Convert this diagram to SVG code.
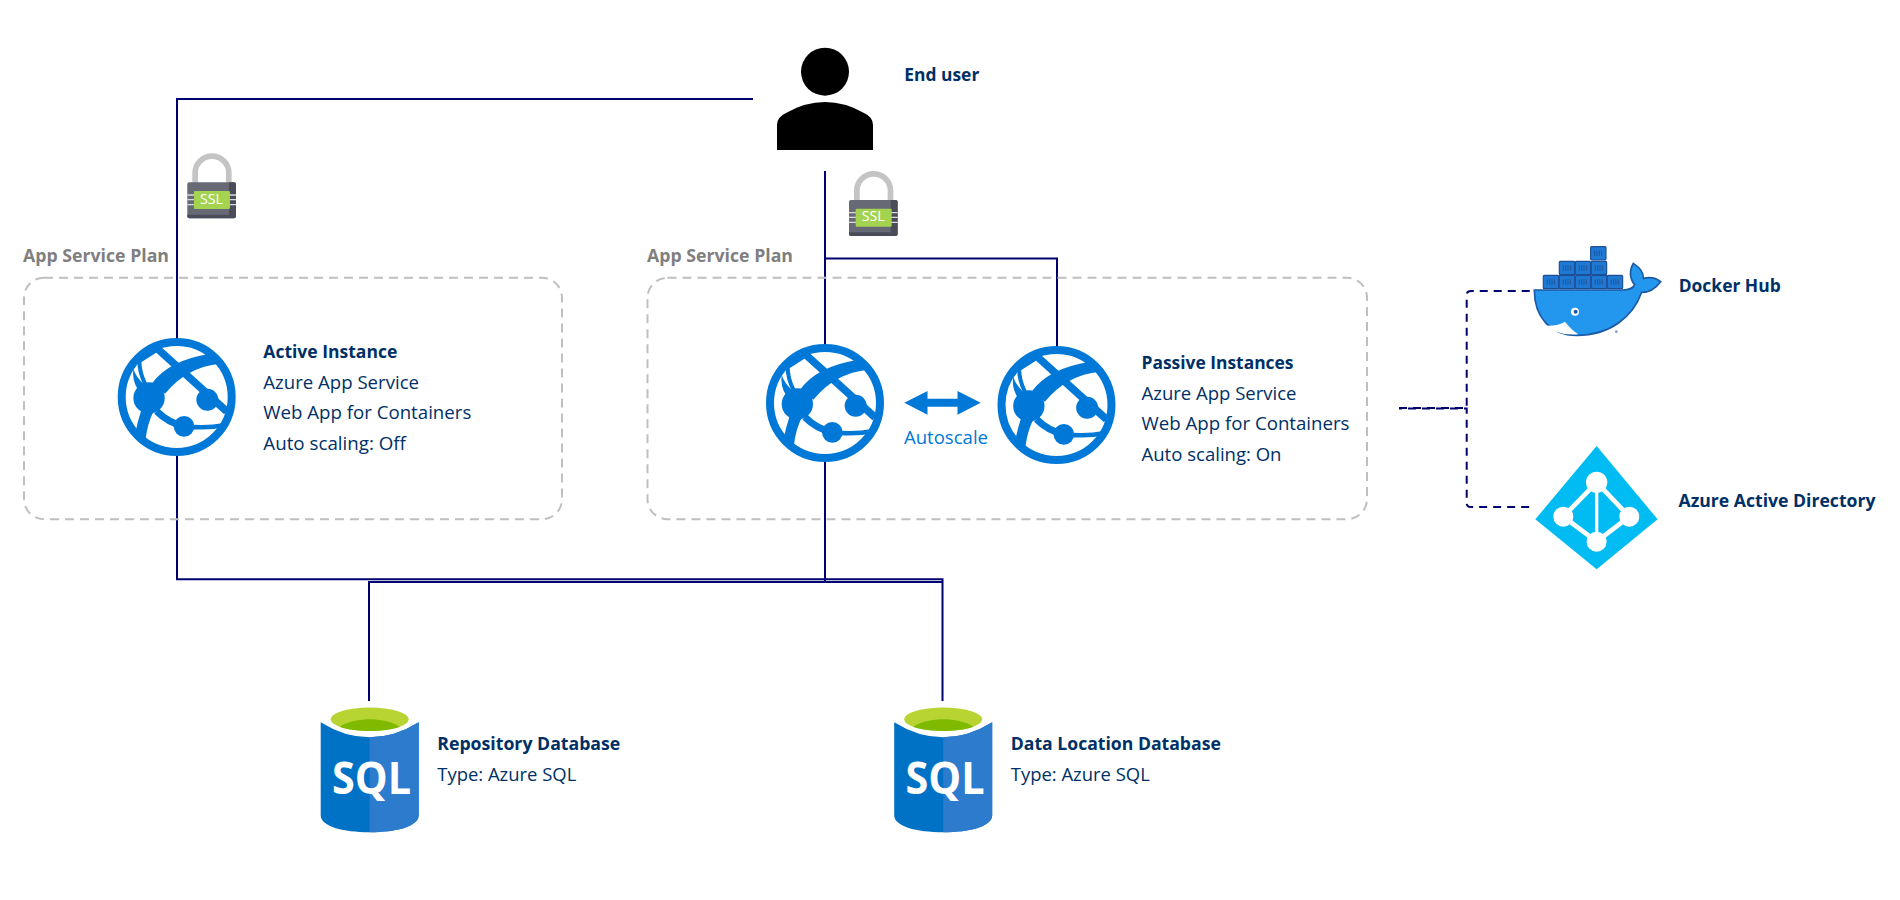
<svg xmlns="http://www.w3.org/2000/svg" width="1900" height="900" viewBox="0 0 1900 900">
<style>
text{font-family:"Open Sans","Noto Sans","Liberation Sans",sans-serif;font-size:18.3px;fill:#003066}
.b{font-weight:700}
.g{fill:#7f7f7f}
.az{fill:#0078d7}
.plan{fill:none;stroke:#bfbfbf;stroke-width:2;stroke-dasharray:9 6}
.ln{fill:none;stroke:#000070;stroke-width:2}
.dl{fill:none;stroke:#000070;stroke-width:2;stroke-dasharray:8 6}
.ssl{fill:#fff;font-size:14.5px}
.sqlt{fill:#fff;font-size:44px;font-weight:700}
</style>
<defs>
<g id="globe" transform="scale(.3333)">
<circle r="165" fill="none" stroke="#0078d7" stroke-width="24"/>
<circle cx="-83" cy="3" r="47" fill="#0078d7"/>
<circle cx="92" cy="8" r="33" fill="#0078d7"/>
<circle cx="22" cy="88" r="31" fill="#0078d7"/>
<path d="M-60 -147L150 43" fill="none" stroke="#0078d7" stroke-width="23"/>
<path d="M-60 43Q-25 78 22 88" fill="none" stroke="#0078d7" stroke-width="21"/>
<path d="M22 88Q90 95 142 85" fill="none" stroke="#0078d7" stroke-width="14"/>
<path d="M-75 -40Q-25 -110 100 -130L130 -100Q30 -90 -35 -10Z" fill="#0078d7"/>
<path d="M-58 -142L-112 -108Q-112 -75 -95 -40" fill="none" stroke="#0078d7" stroke-width="12"/>
<path d="M-130 -85Q-135 -50 -115 -20L-100 -40Q-122 -60 -130 -85Z" fill="#0078d7"/>
<path d="M-105 35L-68 40Q-88 80 -93 125L-125 112Q-118 75 -105 35Z" fill="#0078d7"/>
</g>
<g id="lock" transform="scale(.3333)">
<path d="M23.500 95V59A50.500 50.500 0 0 1 124.500 59V95" fill="none" stroke="#c4c4c4" stroke-width="17"/>
<rect x="0" y="87" width="146" height="108" rx="6" fill="#676a75"/>
<path d="M125 87H140Q146 87 146 93V189Q146 195 140 195H6Q0 195 0 189V184H125Z" fill="#4a4c59"/>
<path d="M0 125H146M0 139H146M0 154H146" stroke="#d9dadd" stroke-width="4"/>
<rect x="20" y="113" width="108" height="54" rx="3" fill="#a4d34f"/>
</g>
<g id="sql">
<path d="M-49 3Q-25 18 0 18Q25 18 49 3V96C49 107 27 113 0 113C-27 113 -49 107 -49 96Z" fill="#0072c6"/>
<path d="M0 18Q25 18 49 3V96C49 107 27 113 0 113Z" fill="#2d7bcd"/>
<ellipse cx="0" cy="0" rx="39" ry="11.7" fill="#b8d432"/>
<path d="M-30 7.500C-22 2 -10 0 0 0C10 0 22 2 30 7.500C22 10.800 10 11.700 0 11.700C-10 11.700 -22 10.800 -30 7.500Z" fill="#7fba00"/>
</g>
<g id="box"><rect width="46" height="40" rx="3" fill="#1f78d1" stroke="#1b4f97" stroke-width="3.500"/><path d="M12 12V28M19 12V28M26 12V28M33 12V28" stroke="#1b4f97" stroke-width="2.500"/></g>
</defs>

<g id="connectors">
<path class="ln" d="M753 99H177V338M177 456V579.300H942.500V701"/>
<path class="ln" d="M369 701V582H942.500"/>
<path class="ln" d="M825 171V344M825 462V582"/>
<path class="ln" d="M825 258.500H1057V347"/>
<path class="dl" d="M1399 408H1466.700V295Q1466.700 291 1471 291H1535"/>
<path class="dl" stroke-dashoffset="5" d="M1399 408.400H1466.700V503Q1466.700 507 1471 507H1535"/>
<path d="M904.300 402.700L927.500 391V398.700H957.500V391L980.700 402.700L957.500 414.700V406.700H927.500V414.700Z" fill="#0078d7"/>
</g>

<g id="plan-active">
<rect class="plan" x="24" y="277.700" width="538" height="241.500" rx="20"/>
<text class="b g" x="23" y="261.700" textLength="146" lengthAdjust="spacingAndGlyphs">App Service Plan</text>
</g>
<g id="plan-passive">
<rect class="plan" x="647.500" y="277.700" width="719.500" height="241.500" rx="20"/>
<text class="b g" x="647" y="261.700" textLength="146" lengthAdjust="spacingAndGlyphs">App Service Plan</text>
</g>

<g id="end-user">
<circle cx="825" cy="71.700" r="24"/>
<path d="M777 150V125Q777 117 786 113Q805 102 825 102Q845 102 864 113Q873 117 873 125V150Z"/>
<text class="b" x="904.300" y="81" textLength="75" lengthAdjust="spacingAndGlyphs">End user</text>
</g>

<g id="lock-active">
<use href="#lock" transform="translate(187.300 153.300)"/>
<text class="ssl" x="211.500" y="203.500" text-anchor="middle" textLength="23" lengthAdjust="spacingAndGlyphs">SSL</text>
</g>
<g id="lock-passive">
<use href="#lock" transform="translate(849 171)"/>
<text class="ssl" x="873.300" y="221.200" text-anchor="middle" textLength="23" lengthAdjust="spacingAndGlyphs">SSL</text>
</g>

<g id="active-instance">
<use href="#globe" transform="translate(176.700 397)"/>
<text class="b" x="263.300" y="357.700" textLength="134" lengthAdjust="spacingAndGlyphs">Active Instance</text>
<text x="263.300" y="389" textLength="155.700" lengthAdjust="spacingAndGlyphs">Azure App Service</text>
<text x="263.300" y="419" textLength="208" lengthAdjust="spacingAndGlyphs">Web App for Containers</text>
<text x="263.300" y="449.700" textLength="142.700" lengthAdjust="spacingAndGlyphs">Auto scaling: Off</text>
</g>

<g id="passive-instance-1">
<use href="#globe" transform="translate(825 403)"/>
<text class="az" x="904" y="444" textLength="84" lengthAdjust="spacingAndGlyphs">Autoscale</text>
</g>

<g id="passive-instance-2">
<use href="#globe" transform="translate(1056.500 405)"/>
<text class="b" x="1141.500" y="369" textLength="152" lengthAdjust="spacingAndGlyphs">Passive Instances</text>
<text x="1141.500" y="400" textLength="155" lengthAdjust="spacingAndGlyphs">Azure App Service</text>
<text x="1141.500" y="430" textLength="208" lengthAdjust="spacingAndGlyphs">Web App for Containers</text>
<text x="1141.500" y="460.700" textLength="140" lengthAdjust="spacingAndGlyphs">Auto scaling: On</text>
</g>

<g id="docker-hub">
<g transform="translate(1380 230) scale(.3333)">
<use href="#box" x="490" y="136"/><use href="#box" x="538" y="136"/><use href="#box" x="586" y="136"/><use href="#box" x="634" y="136"/><use href="#box" x="682" y="136"/>
<use href="#box" x="538" y="94"/><use href="#box" x="586" y="94"/><use href="#box" x="634" y="94"/>
<use href="#box" x="632" y="50"/>
<path d="M463 180H728C745 180 760 174 764 164C748 145 748 120 760 100C778 112 792 128 790 145C810 140 830 145 842 155C825 178 805 187 785 187C760 260 690 316 590 316C510 316 463 260 463 180Z" fill="#2396ed" stroke="#1b5aa5" stroke-width="5"/>
<path d="M500 287Q535 288 555 275Q575 300 595 313Q530 318 500 287Z" fill="#fff"/>
<circle cx="585" cy="245" r="12" fill="#fff"/><circle cx="587" cy="245" r="6" fill="#1b5aa5"/>
<circle cx="709" cy="305" r="4" fill="#7f9fc8"/>
</g>
<text class="b" x="1678.700" y="292" textLength="102" lengthAdjust="spacingAndGlyphs">Docker Hub</text>
</g>

<g id="azure-active-directory">
<g transform="translate(1380 230) scale(.3333)">
<polygon points="650,648 833,868 650,1018 466,868" fill="#00bcf2"/>
<path d="M650 757L550 860L650 935L748 860Z" fill="none" stroke="#fff" stroke-width="14"/>
<path d="M650 757V935" fill="none" stroke="#fff" stroke-width="10"/>
<circle cx="650" cy="757" r="32" fill="#fff"/><circle cx="550" cy="860" r="30" fill="#fff"/><circle cx="748" cy="860" r="30" fill="#fff"/><circle cx="650" cy="935" r="30" fill="#fff"/>
</g>
<text class="b" x="1678.500" y="507" textLength="197" lengthAdjust="spacingAndGlyphs">Azure Active Directory</text>
</g>

<g id="repository-database">
<use href="#sql" transform="translate(369.700 719.300)"/>
<text class="sqlt" x="332" y="794" textLength="79" lengthAdjust="spacingAndGlyphs">SQL</text>
<text class="b" x="437.300" y="750" textLength="183" lengthAdjust="spacingAndGlyphs">Repository Database</text>
<text x="437.300" y="781" textLength="139" lengthAdjust="spacingAndGlyphs">Type: Azure SQL</text>
</g>

<g id="data-location-database">
<use href="#sql" transform="translate(943.200 719.300)"/>
<text class="sqlt" x="905.500" y="794" textLength="79" lengthAdjust="spacingAndGlyphs">SQL</text>
<text class="b" x="1010.800" y="750" textLength="210" lengthAdjust="spacingAndGlyphs">Data Location Database</text>
<text x="1010.800" y="781" textLength="139" lengthAdjust="spacingAndGlyphs">Type: Azure SQL</text>
</g>
</svg>
